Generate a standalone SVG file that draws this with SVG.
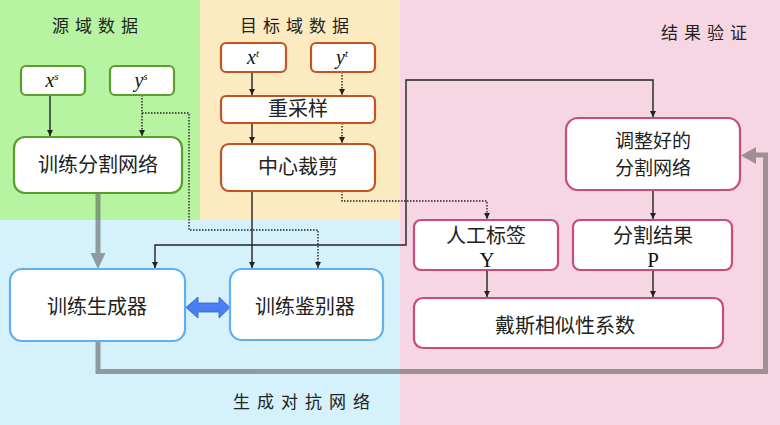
<svg xmlns="http://www.w3.org/2000/svg" width="780" height="425" viewBox="0 0 780 425">
<defs>
<marker id="ah" markerWidth="8" markerHeight="8" refX="6" refY="3" orient="auto-start-reverse" markerUnits="userSpaceOnUse">
<path d="M0,0 L6,3 L0,6 Z" fill="#222"/>
</marker>
<style>
.cn{font-family:"Noto Sans CJK SC","Noto Sans",sans-serif;fill:#222;font-size:20px;text-anchor:middle}
.cn2{font-size:19px}
.ttl{font-family:"Noto Sans CJK SC","Noto Sans",sans-serif;fill:#222;font-size:17px;letter-spacing:6px}
.math{font-family:"Liberation Serif",serif;font-style:italic;fill:#111;font-size:20px;text-anchor:middle}
.sup{font-size:11px}
.lat{font-family:"Liberation Serif",serif;fill:#111;font-size:21px;text-anchor:middle}
.g{fill:#fff;stroke:#5a9e2c;stroke-width:2.2}
.o{fill:#fff;stroke:#c4531f;stroke-width:2.2}
.p{fill:#fff;stroke:#c94b7b;stroke-width:2.2}
.b{fill:#fff;stroke:#5fb0f2;stroke-width:2.2}
.s{fill:none;stroke:#222;stroke-width:1.4}
.d{fill:none;stroke:#222;stroke-width:1.4;stroke-dasharray:1.5 1.5}
</style>
</defs>
<g id="background">
<rect x="0" y="0" width="200" height="220" fill="#b6f4a2"/>
<rect x="200" y="0" width="200" height="220" fill="#fcebc1"/>
<rect x="400" y="0" width="380" height="425" fill="#f6d6e2"/>
<rect x="0" y="220" width="400" height="205" fill="#d5f1fb"/>
<text class="ttl" x="52" y="32">源域数据</text>
<text class="ttl" x="240" y="32">目标域数据</text>
<text class="ttl" x="661" y="39">结果验证</text>
<text class="ttl" x="233" y="408" style="letter-spacing:7px">生成对抗网络</text>
</g>
<g id="connectors">
<g opacity="0.5" fill="#4a4a4a">
<rect x="95.5" y="193" width="5" height="62"/>
<polygon points="90.5,253 105.5,253 98,269"/>
<path d="M98,341 V371.5 H765.5 V155 H754" fill="none" stroke="#4a4a4a" stroke-width="5"/>
<polygon points="756,147 756,164 741,155.5"/>
</g>
<polygon points="186,307.5 198,297 198,303 219,303 219,297 230,307.5 219,318 219,312 198,312 198,318" fill="#4a7ff2" stroke="#3060d0" stroke-width="0.8"/>
<line class="s" x1="50" y1="95" x2="50" y2="136" marker-end="url(#ah)"/>
<line class="d" x1="142" y1="95" x2="142" y2="136" marker-end="url(#ah)"/>
<path class="d" d="M142,113 H189 V230 H318 V268" marker-end="url(#ah)"/>
<line class="s" x1="252" y1="72" x2="252" y2="95" marker-end="url(#ah)"/>
<line class="d" x1="342" y1="72" x2="342" y2="95" marker-end="url(#ah)"/>
<line class="s" x1="252" y1="123" x2="252" y2="143" marker-end="url(#ah)"/>
<line class="d" x1="342" y1="123" x2="342" y2="143" marker-end="url(#ah)"/>
<line class="s" x1="252" y1="191" x2="252" y2="268" marker-end="url(#ah)"/>
<path class="d" d="M342,191 V201 H487 V219" marker-end="url(#ah)"/>
<path class="s" d="M155,268 V245 H406 V80 H653 V117" marker-start="url(#ah)" marker-end="url(#ah)"/>
<line class="s" x1="653" y1="190" x2="653" y2="219" marker-end="url(#ah)"/>
<line class="s" x1="487" y1="270" x2="487" y2="297" marker-end="url(#ah)"/>
<line class="s" x1="653" y1="270" x2="653" y2="297" marker-end="url(#ah)"/>
</g>
<g id="xs"><rect class="g" x="21" y="66" width="64" height="29" rx="5"/><text class="math" x="52" y="87">x<tspan class="sup" dy="-7">s</tspan></text></g>
<g id="ys"><rect class="g" x="110" y="66" width="64" height="29" rx="5"/><text class="math" x="141" y="87">y<tspan class="sup" dy="-7">s</tspan></text></g>
<g id="seg-train"><rect class="g" x="14" y="137" width="168" height="56" rx="11"/><text class="cn" x="98" y="172">训练分割网络</text></g>
<g id="xt"><rect class="o" x="221" y="43" width="65" height="29" rx="5"/><text class="math" x="253" y="64">x<tspan class="sup" dy="-7">t</tspan></text></g>
<g id="yt"><rect class="o" x="311" y="43" width="64" height="29" rx="5"/><text class="math" x="342" y="64">y<tspan class="sup" dy="-7">t</tspan></text></g>
<g id="resample"><rect class="o" x="221" y="96" width="154" height="27" rx="5"/><text class="cn" x="298" y="116">重采样</text></g>
<g id="crop"><rect class="o" x="221" y="144" width="154" height="47" rx="8"/><text class="cn" x="298" y="174">中心裁剪</text></g>
<g id="tuned"><rect class="p" x="566" y="118" width="174" height="72" rx="12"/><text class="cn cn2" x="653" y="148">调整好的</text><text class="cn cn2" x="653" y="175">分割网络</text></g>
<g id="label"><rect class="p" x="414" y="220" width="144" height="50" rx="7"/><text class="cn" x="486" y="243">人工标签</text><text class="lat" x="487" y="267">Y</text></g>
<g id="result"><rect class="p" x="573" y="220" width="159" height="50" rx="7"/><text class="cn" x="653" y="243">分割结果</text><text class="lat" x="653" y="267">P</text></g>
<g id="dice"><rect class="p" x="414" y="298" width="309" height="50" rx="9"/><text class="cn" x="565" y="333">戴斯相似性系数</text></g>
<g id="generator"><rect class="b" x="10" y="269" width="175" height="72" rx="12"/><text class="cn" x="97" y="314">训练生成器</text></g>
<g id="discriminator"><rect class="b" x="230" y="269" width="153" height="71" rx="12"/><text class="cn" x="305" y="314">训练鉴别器</text></g>
</svg>
